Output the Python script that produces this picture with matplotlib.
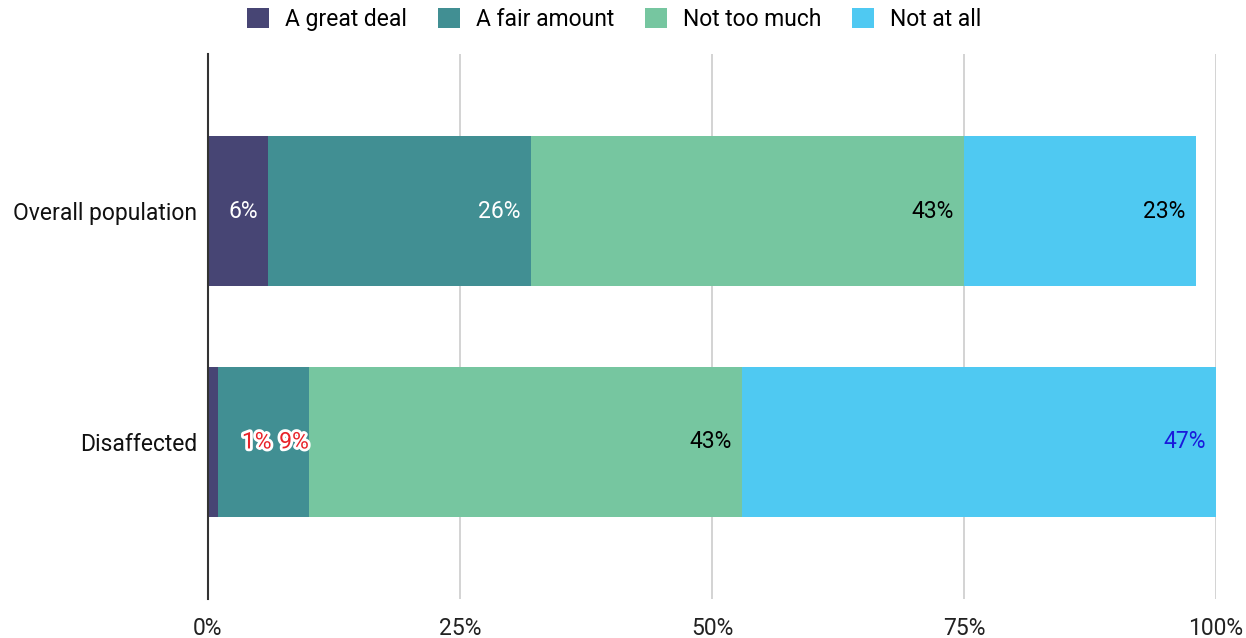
import matplotlib.pyplot as plt
import matplotlib.patheffects as pe
import numpy as np

plt.rcParams['font.family'] = ['Roboto', 'DejaVu Sans']

categories = ["Overall population", "Disaffected"]
series_names = ["A great deal", "A fair amount", "Not too much", "Not at all"]
great_deal = [6, 1]
fair_amount = [26, 9]
not_too_much = [43, 43]
not_at_all = [23, 47]
series = [great_deal, fair_amount, not_too_much, not_at_all]
x_ticks = [0, 25, 50, 75, 100]
x_tick_labels = ["0%", "25%", "50%", "75%", "100%"]

colors = ["#474574", "#418f93", "#76c6a0", "#4fc9f2"]
label_colors = [["white", "white", "black", "black"],
                ["black", "black", "black", "#1a1adb"]]
RED = "#e8232a"
FS = 16.5

fig = plt.figure(figsize=(12.46, 6.38), dpi=100)
ax = fig.add_axes([208 / 1246, 1 - 599 / 638, 1008 / 1246, 545 / 638])

y = np.arange(len(categories))
left = np.zeros(len(categories))
for i, vals in enumerate(series):
    vals = np.array(vals, dtype=float)
    ax.barh(y, vals, left=left, height=0.65, color=colors[i],
            label=series_names[i], zorder=3)
    left = left + vals

# value labels, right aligned at segment end; a label that does not fit
# its segment goes to the left of its neighbour and both turn red
label_w = 2.9  # approx width of a "9%" label in data units
for r in range(len(categories)):
    vals = [s[r] for s in series]
    ends = np.cumsum(vals)
    xs = [e - 1.0 for e in ends]
    cols = list(label_colors[r])
    for i in range(len(vals) - 1):
        if vals[i] < label_w:
            xs[i + 1] = ends[i + 1]
            xs[i] = xs[i + 1] - label_w - 0.8
            cols[i] = RED
            cols[i + 1] = RED
    for i in range(len(vals)):
        effects = []
        if cols[i] == RED:
            effects = [pe.withStroke(linewidth=4, foreground="white")]
        ax.text(xs[i], y[r], f"{vals[i]}%", ha="right", va="center",
                fontsize=FS, color=cols[i], zorder=5, path_effects=effects)

ax.set_xlim(0, 100)
ax.set_ylim(1.68, -0.68)
ax.set_xticks(x_ticks)
ax.set_xticklabels(x_tick_labels, fontsize=FS, color="#222222")
ax.set_yticks(y)
ax.set_yticklabels(categories, fontsize=FS, color="#111111")
ax.tick_params(axis="y", length=0, pad=8)
ax.tick_params(axis="x", length=0, pad=13)
ax.xaxis.grid(True, color="#cccccc", linewidth=1.2, zorder=0)
for s in ["top", "right", "bottom"]:
    ax.spines[s].set_visible(False)
ax.spines["left"].set_color("#333333")
ax.spines["left"].set_linewidth(1.5)
ax.spines["left"].set_zorder(4)

fig.legend(loc="upper center", bbox_to_anchor=(0.493, 1.02), ncol=4,
           frameon=False, fontsize=FS, handlelength=0.95, handleheight=0.95,
           columnspacing=1.35, handletextpad=0.7)

fig.savefig("out.png", dpi=100)
